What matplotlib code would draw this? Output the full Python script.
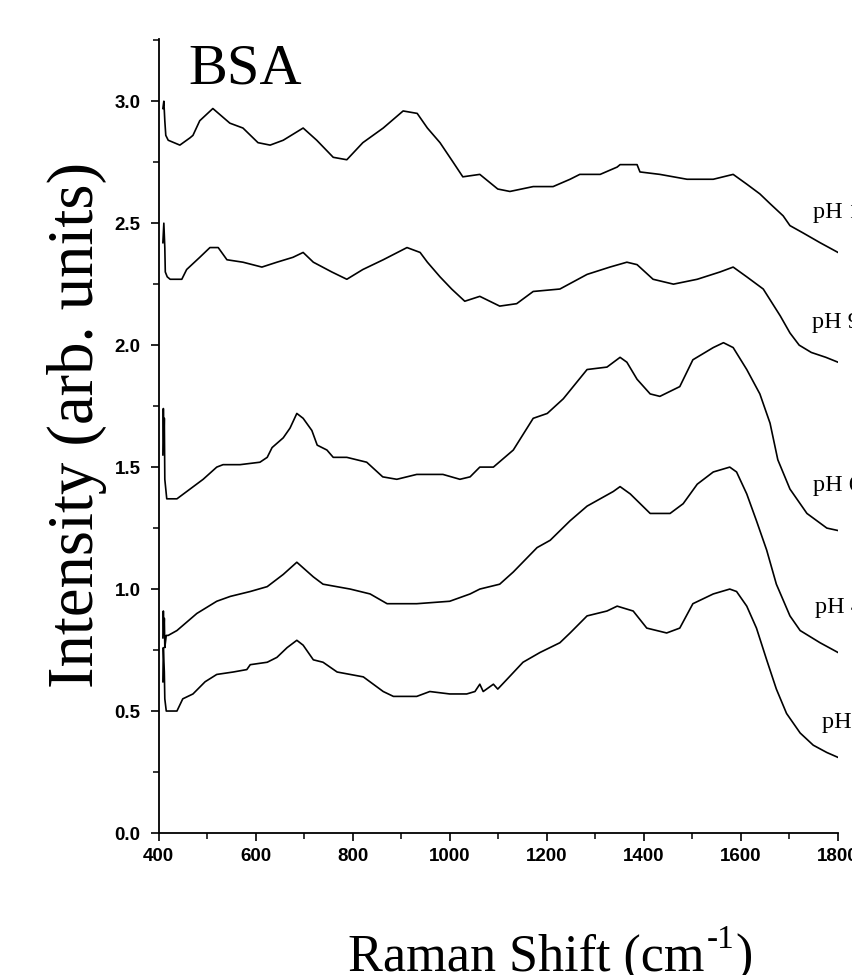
import matplotlib
matplotlib.use("Agg")
import matplotlib.pyplot as plt
from matplotlib.ticker import MultipleLocator

# ---------------- data ----------------
x_ph11 = [409, 411, 413, 415, 420, 444, 465, 471, 485, 512, 547, 574, 605, 630, 657, 698, 726, 760, 788,
          821, 863, 904, 933, 954, 980, 1007, 1027, 1062, 1099, 1124, 1172, 1213, 1248, 1268, 1310, 1345,
          1351, 1386, 1392, 1433, 1489, 1543, 1584, 1612, 1639, 1660, 1687, 1701, 1728, 1763, 1800]
y_ph11 = [2.97, 3.00, 2.92, 2.86, 2.84, 2.82, 2.85, 2.86, 2.92, 2.97, 2.91, 2.89, 2.83, 2.82, 2.84, 2.89, 2.84,
          2.77, 2.76, 2.83, 2.89, 2.96, 2.95, 2.89, 2.83, 2.75, 2.69, 2.70, 2.64, 2.63, 2.65, 2.65, 2.68, 2.70,
          2.70, 2.73, 2.74, 2.74, 2.71, 2.70, 2.68, 2.68, 2.70, 2.66, 2.62, 2.58, 2.53, 2.49, 2.46, 2.42, 2.38]

x_ph9 = [409, 411, 413, 414, 418, 424, 448, 458, 485, 506, 523, 541, 574, 613, 644, 677, 698, 719, 757, 788,
         821, 863, 912, 939, 954, 980, 1004, 1031, 1062, 1103, 1138, 1172, 1227, 1283, 1330, 1365, 1386, 1419,
         1461, 1510, 1557, 1584, 1612, 1646, 1681, 1701, 1720, 1745, 1775, 1800]
y_ph9 = [2.42, 2.50, 2.40, 2.30, 2.28, 2.27, 2.27, 2.31, 2.36, 2.40, 2.40, 2.35, 2.34, 2.32, 2.34, 2.36, 2.38,
         2.34, 2.30, 2.27, 2.31, 2.35, 2.40, 2.38, 2.34, 2.28, 2.23, 2.18, 2.20, 2.16, 2.17, 2.22, 2.23, 2.29,
         2.32, 2.34, 2.33, 2.27, 2.25, 2.27, 2.30, 2.32, 2.28, 2.23, 2.12, 2.05, 2.00, 1.97, 1.95, 1.93]

x_ph6 = [409, 410, 411, 412, 413, 417, 438, 465, 492, 520, 533, 568, 609, 624, 634, 657, 671, 685, 698, 716,
         727, 747, 760, 788, 829, 862, 891, 932, 986, 1021, 1042, 1062, 1090, 1131, 1172, 1201, 1234, 1283,
         1324, 1351, 1365, 1386, 1413, 1433, 1474, 1501, 1543, 1564, 1584, 1612, 1639, 1660, 1676, 1701,
         1736, 1777, 1800]
y_ph6 = [1.55, 1.74, 1.60, 1.70, 1.45, 1.37, 1.37, 1.41, 1.45, 1.50, 1.51, 1.51, 1.52, 1.54, 1.58, 1.62, 1.66,
         1.72, 1.70, 1.65, 1.59, 1.57, 1.54, 1.54, 1.52, 1.46, 1.45, 1.47, 1.47, 1.45, 1.46, 1.50, 1.50, 1.57,
         1.70, 1.72, 1.78, 1.90, 1.91, 1.95, 1.93, 1.86, 1.80, 1.79, 1.83, 1.94, 1.99, 2.01, 1.99, 1.90, 1.80,
         1.68, 1.53, 1.41, 1.31, 1.25, 1.24]

x_ph4 = [409, 410, 411, 412, 413, 416, 420, 438, 479, 520, 548, 589, 624, 657, 685, 719, 739, 795, 836, 871,
         932, 1000, 1042, 1062, 1103, 1131, 1180, 1207, 1248, 1283, 1337, 1351, 1372, 1413, 1454, 1481, 1510,
         1543, 1577, 1591, 1612, 1632, 1653, 1673, 1701, 1722, 1763, 1800]
y_ph4 = [0.80, 0.91, 0.82, 0.88, 0.76, 0.81, 0.81, 0.83, 0.90, 0.95, 0.97, 0.99, 1.01, 1.06, 1.11, 1.05, 1.02,
         1.00, 0.98, 0.94, 0.94, 0.95, 0.98, 1.00, 1.02, 1.07, 1.17, 1.20, 1.28, 1.34, 1.40, 1.42, 1.39, 1.31,
         1.31, 1.35, 1.43, 1.48, 1.50, 1.48, 1.39, 1.28, 1.16, 1.02, 0.89, 0.83, 0.78, 0.74]

x_ph2 = [409, 410, 412, 413, 416, 420, 438, 450, 471, 496, 520, 554, 582, 589, 624, 644, 665, 685, 698, 719,
         739, 768, 822, 863, 884, 932, 959, 1000, 1035, 1052, 1062, 1069, 1090, 1099, 1118, 1151, 1186, 1227,
         1248, 1283, 1324, 1345, 1378, 1406, 1447, 1474, 1501, 1543, 1577, 1591, 1612, 1632, 1653, 1673,
         1694, 1722, 1749, 1777, 1800]
y_ph2 = [0.62, 0.76, 0.66, 0.55, 0.50, 0.50, 0.50, 0.55, 0.57, 0.62, 0.65, 0.66, 0.67, 0.69, 0.70, 0.72, 0.76,
         0.79, 0.77, 0.71, 0.70, 0.66, 0.64, 0.58, 0.56, 0.56, 0.58, 0.57, 0.57, 0.58, 0.61, 0.58, 0.61, 0.59,
         0.63, 0.70, 0.74, 0.78, 0.82, 0.89, 0.91, 0.93, 0.91, 0.84, 0.82, 0.84, 0.94, 0.98, 1.00, 0.99, 0.93,
         0.84, 0.71, 0.59, 0.49, 0.41, 0.36, 0.33, 0.31]

series_x = [x_ph11, x_ph9, x_ph6, x_ph4, x_ph2]
series_y = [y_ph11, y_ph9, y_ph6, y_ph4, y_ph2]
labels = ["pH 11", "pH 9", "pH 6", "pH 4", "pH 2"]
label_x = [1748, 1746, 1748, 1752, 1767]
label_y = [2.52, 2.07, 1.40, 0.90, 0.43]

x_ticks = [400, 600, 800, 1000, 1200, 1400, 1600, 1800]
y_ticks = [0.0, 0.5, 1.0, 1.5, 2.0, 2.5, 3.0]

# ---------------- figure ----------------
W, H = 852, 975
fig = plt.figure(figsize=(W / 100, H / 100), dpi=100)
ax = fig.add_axes([158.5 / W, 1 - 833 / H, (838 - 158.5) / W, 794 / H])

for xs, ys in zip(series_x, series_y):
    ax.plot(xs, ys, color="black", linewidth=1.2)

ax.set_xlim(400, 1800)
ax.set_ylim(0, 3.255)

for s in ["top", "right"]:
    ax.spines[s].set_visible(False)
for s in ["left", "bottom"]:
    ax.spines[s].set_linewidth(1.3)

ax.set_xticks(x_ticks)
ax.set_yticks(y_ticks)
ax.set_xticklabels([str(v) for v in x_ticks])
ax.set_yticklabels([f"{v:.1f}" for v in y_ticks])
ax.xaxis.set_minor_locator(MultipleLocator(100))
ax.yaxis.set_minor_locator(MultipleLocator(0.25))
ax.tick_params(which="major", direction="out", length=6, width=1.2, labelsize=13.5)
ax.tick_params(which="minor", direction="out", length=4.5, width=1.1)
ax.tick_params(axis="y", which="major", pad=7)
ax.tick_params(axis="x", which="major", pad=5)
for lab in ax.get_xticklabels() + ax.get_yticklabels():
    lab.set_fontfamily("Liberation Sans")
    lab.set_fontweight("bold")

serif = "Liberation Serif"
for t, lx, ly in zip(labels, label_x, label_y):
    ax.text(lx, ly, t, fontsize=17.5, family=serif, ha="left", va="baseline", clip_on=False)

fig.text(188 / W, 1 - 84 / H, "BSA", fontsize=42, family=serif, ha="left", va="baseline")

fig.text(77 / W, 1 - 425 / H, "Intensity (arb. units)", fontsize=46.5, family=serif,
         rotation=90, ha="center", va="center")

# x label with superscript
base_y = 1 - 971 / H
t1 = fig.text(348 / W, base_y, "Raman Shift (cm", fontsize=37.5, family=serif, ha="left", va="baseline")
fig.canvas.draw()
r = fig.canvas.get_renderer()
bb1 = t1.get_window_extent(r)
t2 = fig.text((bb1.x1 + 2) / W, 1 - 948 / H, "-1", fontsize=24, family=serif, ha="left", va="baseline")
fig.canvas.draw()
bb2 = t2.get_window_extent(r)
fig.text((bb2.x1 + 1) / W, base_y, ")", fontsize=37.5, family=serif, ha="left", va="baseline")

fig.savefig("out.png", dpi=100)
